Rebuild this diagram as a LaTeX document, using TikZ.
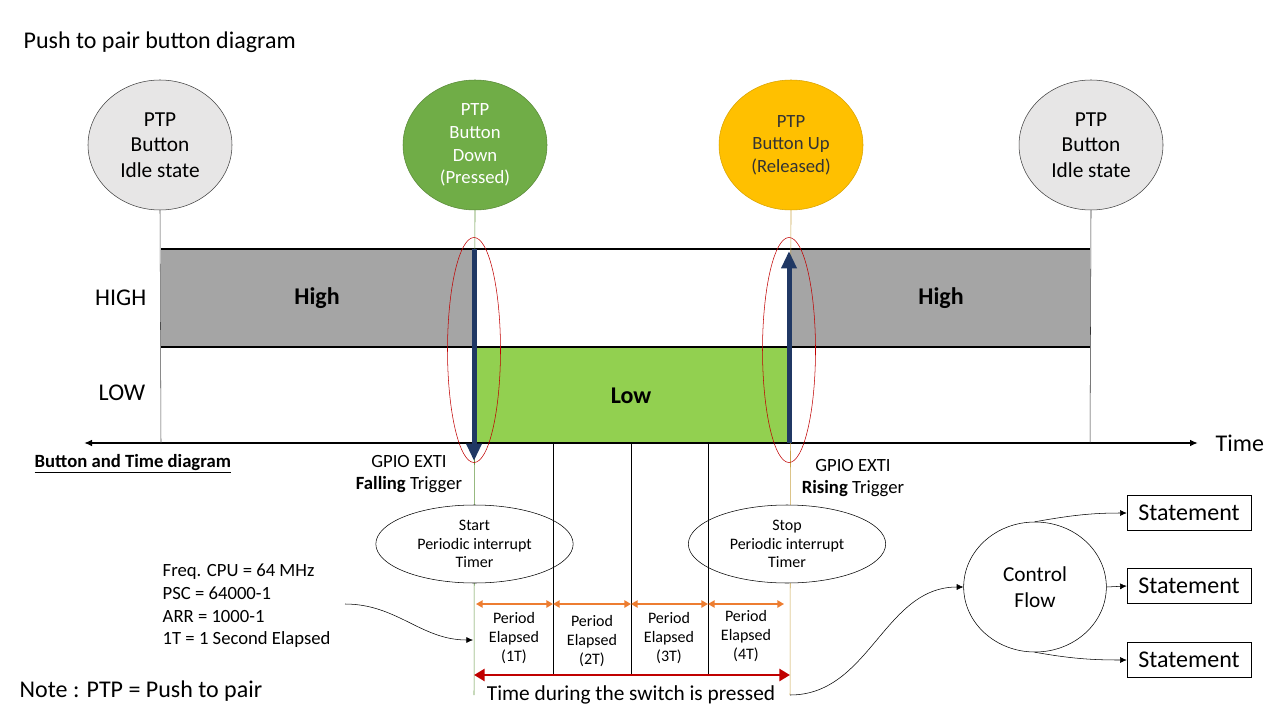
\documentclass[tikz,border=0pt]{standalone}
\usepackage{fontspec}
\setmainfont{Carlito}
\usetikzlibrary{shapes.geometric,arrows.meta,positioning}

\definecolor{idlegray}{HTML}{E7E6E6}
\definecolor{highgray}{HTML}{A5A5A5}
\definecolor{lowgreen}{HTML}{92D050}
\definecolor{downgreen}{HTML}{70AD47}
\definecolor{upyellow}{HTML}{FFC000}
\definecolor{uptan}{HTML}{C9A44A}
\definecolor{edgeblue}{HTML}{203864}
\definecolor{ringred}{HTML}{C00000}
\definecolor{periodorange}{HTML}{ED7D31}

\begin{document}
\begin{tikzpicture}[x=0.75pt,y=-0.75pt,
	btnstate/.style={ellipse, draw=black!75, minimum width=108pt, minimum height=97.5pt, inner sep=0pt, align=center, font=\fontsize{16}{19}\selectfont},
	timer/.style={ellipse, draw, thin, minimum width=148pt, minimum height=58.5pt, inner sep=0pt, align=center, font=\fontsize{12}{14}\selectfont},
	period/.style={align=center, font=\fontsize{12}{14}\selectfont},
	stmt/.style={draw, thin, minimum width=93pt, minimum height=26pt, inner sep=0pt, font=\fontsize{18}{22}\selectfont},
	edgearrow/.style={edgeblue, line width=3.75pt, -{Triangle[width=11pt,length=13pt]}},
	edgering/.style={ellipse, draw=ringred, thin, minimum width=39.75pt, minimum height=168.75pt, inner sep=0pt},
	periodarrow/.style={periodorange, line width=1.1pt, {Triangle[width=5.5pt,length=5pt]}-{Triangle[width=5.5pt,length=5pt]}},
	flowarrow/.style={thin, -{Latex[length=5pt,width=4.5pt]}}]
	\useasboundingbox (0,0) rectangle (1280,720);
	
	\def\yH{249}
	\def\yM{347}
	\def\yA{443}
	
	%Titles
	\node[anchor=west, font=\fontsize{18}{22}\selectfont] (title) at (19,42) {Push to pair button diagram};
	\node[anchor=west, font=\fontsize{18}{22}\selectfont] (note) at (15,691) {Note : PTP = Push to pair};
	\node[anchor=west, font=\fontsize{14}{17}\selectfont\bfseries] (btd) at (30,464) {\underline{Button and Time diagram}};
	
	%Button states
	\node[btnstate, fill=idlegray] (idleA) at (160,145) {PTP\\Button\\Idle state};
	\node[btnstate, fill=downgreen, draw=downgreen!80!black, text=white, font=\fontsize{14}{17}\selectfont] (down) at (475,145) {PTP\\Button\\Down\\(Pressed)};
	\node[btnstate, fill=upyellow, draw=upyellow!85!black, text=black!80, font=\fontsize{14}{17}\selectfont] (up) at (791,145) {PTP\\Button Up\\(Released)};
	\node[btnstate, fill=idlegray] (idleB) at (1091,145) {PTP\\Button\\Idle state};
	
	%High and Low bands
	\fill[highgray] (161,\yH) rectangle (474,\yM);
	\fill[highgray] (790,\yH) rectangle (1090,\yM);
	\fill[lowgreen] (474,\yM) rectangle (790,\yA);
	\draw[line width=1.5pt] (161,\yH) -- (1090,\yH);
	\draw[line width=1.5pt] (161,\yM) -- (1090,\yM);
	\node[anchor=east, font=\fontsize{18}{22}\selectfont] (highlbl) at (151,298) {HIGH};
	\node[font=\fontsize{18}{22}\selectfont] (lowlbl) at (122,393) {LOW};
	\node[font=\fontsize{18}{22}\selectfont\bfseries] (highA) at (317,298) {High};
	\node[font=\fontsize{18}{22}\selectfont\bfseries] (highB) at (941,298) {High};
	\node[font=\fontsize{18}{22}\selectfont\bfseries] (low) at (631,396) {Low};
	
	%Time axis
	\coordinate (axisL) at (84,\yA);
	\coordinate (axisR) at (1198,\yA);
	\draw[line width=1.5pt, {Latex[length=6pt,width=5pt]}-{Latex[length=6pt,width=5pt]}] (axisL) -- (axisR);
	\node[anchor=west, font=\fontsize{18}{22}\selectfont] (time) at (1211,443) {Time};
	
	%State lines
	\coordinate (idleAend) at (161,\yA);
	\coordinate (idleBend) at (1090,\yA);
	\coordinate (downend) at (474,695);
	\coordinate (upend) at (790,695);
	\draw[black!70, thin] (idleA.south) -- (idleAend);
	\draw[black!80, thin] (idleB.south) -- (idleBend);
	\draw[downgreen!85!black, thin] (down.south) -- (downend);
	\draw[uptan, thin] (up.south) -- (upend);
	
	%Edges
	\coordinate (fallTop) at (474,\yH);
	\coordinate (fallTip) at (474,461);
	\coordinate (riseBase) at (789,\yA);
	\coordinate (riseTip) at (789,251);
	\draw[edgearrow] (fallTop) -- (fallTip);
	\draw[edgearrow] (riseBase) -- (riseTip);
	\node[edgering] (fallring) at (474,350) {};
	\node[edgering] (risering) at (789,350) {};
	\node[align=center, font=\fontsize{14}{17}\selectfont] (falltxt) at (409,474) {GPIO EXTI\\\textbf{Falling} Trigger};
	\node[align=center, font=\fontsize{14}{17}\selectfont] (risetxt) at (853,478) {GPIO EXTI\\\textbf{Rising} Trigger};
	
	%Timer
	\node[timer, fill=white] (start) at (474.5,544) {Start\\Periodic interrupt\\Timer};
	\node[timer, fill=white] (stop) at (787,544) {Stop\\Periodic interrupt\\Timer};
	
	%Periods
	\coordinate (tA) at (553,\yA);
	\coordinate (tB) at (631,\yA);
	\coordinate (tC) at (708,\yA);
	\coordinate (bA) at (553,675);
	\coordinate (bB) at (631,675);
	\coordinate (bC) at (708,675);
	\draw[thin] (tA) -- (bA);
	\draw[thin] (tB) -- (bB);
	\draw[thin] (tC) -- (bC);
	\coordinate (p0) at (476,604);
	\coordinate (p1) at (553,604);
	\coordinate (p2) at (631,604);
	\coordinate (p3) at (708,604);
	\coordinate (p4) at (784,604);
	\draw[periodarrow] (p0) -- (p1);
	\draw[periodarrow] (p1) -- (p2);
	\draw[periodarrow] (p2) -- (p3);
	\draw[periodarrow] (p3) -- (p4);
	\node[period] (pA) at (514,638) {Period\\Elapsed\\(1T)};
	\node[period] (pB) at (592,641) {Period\\Elapsed\\(2T)};
	\node[period] (pC) at (669,638) {Period\\Elapsed\\(3T)};
	\node[period] (pD) at (746,636) {Period\\Elapsed\\(4T)};
	
	%Pressed time
	\coordinate (pressL) at (474,675);
	\coordinate (pressR) at (790,675);
	\draw[ringred, line width=2.2pt, {Triangle[width=9pt,length=8pt]}-{Triangle[width=9pt,length=8pt]}] (pressL) -- (pressR);
	\node[font=\fontsize{16}{19}\selectfont] (presstxt) at (631,695) {Time during the switch is pressed};
	
	%Timer settings
	\node[anchor=west, align=left, font=\fontsize{14}{17}\selectfont] (freq) at (158,606) {Freq. CPU = 64 MHz\\PSC = 64000-1\\ARR = 1000-1\\1T = 1 Second Elapsed};
	\coordinate (freqend) at (345,604);
	\coordinate (freqtip) at (473,640);
	\draw[flowarrow] (freqend) to[out=0, in=180] (freqtip);
	
	%Control flow
	\node[ellipse, draw, thin, minimum width=107pt, minimum height=97.5pt, inner sep=0pt, align=center, font=\fontsize{16}{20}\selectfont] (cf) at (1035,587) {Control\\Flow};
	\node[stmt] (stA) at (1189,513) {Statement};
	\node[stmt] (stB) at (1189,586) {Statement};
	\node[stmt] (stC) at (1189,660) {Statement};
	\draw[flowarrow] (upend) to[out=0, in=180] (cf.west);
	\draw[flowarrow] (cf.north) to[out=10, in=180] (stA.west);
	\draw[flowarrow] (cf.east) -- (stB.west);
	\draw[flowarrow] (cf.south) to[out=-10, in=180] (stC.west);
\end{tikzpicture}
\end{document}
